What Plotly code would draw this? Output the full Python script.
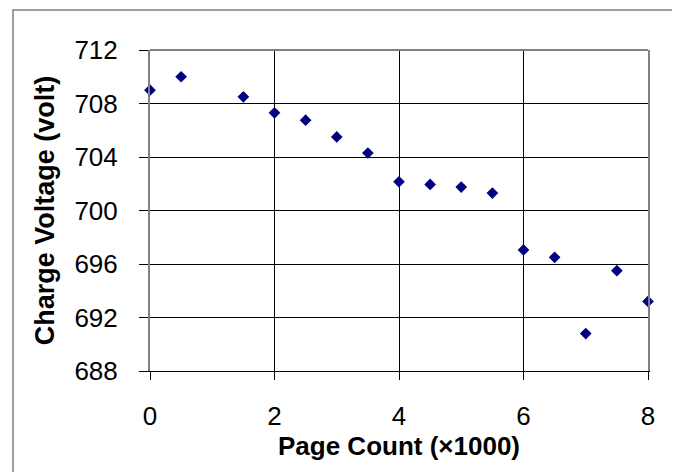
import plotly.graph_objects as go

page_count = [0, 0.5, 1.5, 2, 2.5, 3, 3.5, 4, 4.5, 5, 5.5, 6, 6.5, 7, 7.5, 8]
charge_voltage = [709.0, 710.0, 708.5, 707.3, 706.75, 705.5, 704.3, 702.15,
                  701.95, 701.75, 701.3, 697.05, 696.5, 690.8, 695.5, 693.2]
x_ticks = [0, 2, 4, 6, 8]
y_ticks = [688, 692, 696, 700, 704, 708, 712]

FONT = "Arial, Liberation Sans, sans-serif"

fig = go.Figure()
fig.add_trace(go.Scatter(
    x=page_count, y=charge_voltage, mode="markers",
    marker=dict(symbol="diamond", size=9, color="#000080",
                line=dict(width=0)),
    showlegend=False, cliponaxis=False,
))

# page body has an 8px margin, so the figure sits at (8, 8) in the window
W, H = 672, 464
L, R, T, B = 142, 32, 42, 101
pw, ph = W - L - R, H - T - B

def px_x(p):
    return (p - L) / pw

def px_y(p):
    return (H - B - p) / ph

fig.update_layout(
    width=W, height=H,
    margin=dict(l=L, r=R, t=T, b=B),
    paper_bgcolor="white", plot_bgcolor="white",
    font=dict(family=FONT, color="black"),
    xaxis=dict(
        range=[0, 8], tickvals=x_ticks, ticktext=[str(v) for v in x_ticks],
        showgrid=True, gridcolor="black", gridwidth=1,
        zeroline=False, showline=True, linecolor="black", linewidth=1,
        ticks="outside", ticklen=8, tickcolor="black", tickwidth=1,
        tickfont=dict(size=26, family=FONT), ticklabelstandoff=14,
        title=dict(text="<b>Page Count (×1000)</b>", font=dict(size=26, family=FONT), standoff=6),
    ),
    yaxis=dict(
        range=[688, 712], tickvals=y_ticks, ticktext=[str(v) for v in y_ticks],
        showgrid=True, gridcolor="black", gridwidth=1,
        zeroline=False, showline=True, linecolor="#808080", linewidth=2, mirror=True,
        ticks="outside", ticklen=9, tickcolor="black", tickwidth=1,
        tickfont=dict(size=26, family=FONT), ticklabelstandoff=16,
        title=dict(text="<b>Charge Voltage (volt)</b>", font=dict(size=27, family=FONT), standoff=12),
    ),
    shapes=[
        dict(type="line", xref="paper", yref="paper", x0=0, x1=1, y0=1, y1=1,
             line=dict(color="#808080", width=2)),
        dict(type="rect", xref="paper", yref="paper",
             x0=px_x(5), x1=px_x(667), y0=px_y(490), y1=px_y(2),
             line=dict(color="#808080", width=1.5), layer="below"),
    ],
)

fig.write_html("out.html")
